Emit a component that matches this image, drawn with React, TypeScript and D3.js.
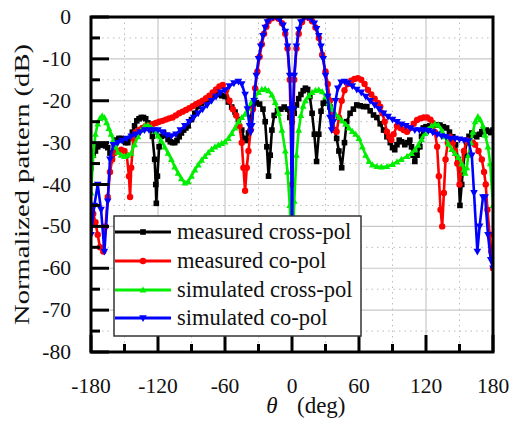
import React from 'react';
import * as d3 from 'd3';

const xTickValues = [-180, -120, -60, 0, 60, 120, 180];
const xMinorValues = [-150, -90, -30, 30, 90, 150];
const yTickValues = [0, -10, -20, -30, -40, -50, -60, -70, -80];
const yMinorValues = [-5, -15, -25, -35, -45, -55, -65, -75];

const seriesNames = ['measured cross-pol', 'measured co-pol', 'simulated cross-pol', 'simulated co-pol'];

const measuredCross: [number, number][] = [
  [-180, -36], [-178, -33], [-176, -32], [-174, -31], [-172, -30.6], [-169, -30.5], [-167, -30.8], [-165, -31.2],
  [-163, -32.5], [-161, -33], [-159, -30.5], [-157, -29.4], [-155, -29], [-153, -29], [-151, -29.5], [-149, -30],
  [-147, -30], [-145, -29], [-143, -27.5], [-141, -26], [-139, -24.8], [-137, -24.3], [-135, -24], [-133, -24],
  [-131, -24.3], [-129, -25.3], [-127, -26.5], [-125, -28.5], [-123, -34], [-122, -40], [-121.5, -44.5], [-120.5, -38],
  [-119, -31], [-117, -28.5], [-115, -27.7], [-113, -28.3], [-111, -29.2], [-109, -29.8], [-107, -30], [-105, -30],
  [-103, -29.5], [-101, -28.6], [-99, -27.7], [-97, -27], [-95, -26.5], [-93, -26], [-90, -24.5], [-87, -23],
  [-84, -21.4], [-81, -20.6], [-78, -20.2], [-75, -19.8], [-72, -19], [-69, -18.2], [-66, -18.5], [-63, -18.8],
  [-60, -19], [-57, -20.3], [-54, -21.5], [-51, -22.7], [-48, -24.5], [-45, -27], [-43, -29], [-41, -29.5],
  [-39, -27.7], [-37, -24], [-35, -21.5], [-32, -20.5], [-29, -20.8], [-26, -22], [-24, -25], [-22.5, -31],
  [-21, -38], [-19.5, -33], [-18, -27], [-16, -23.5], [-13, -22.4], [-10, -22], [-7, -21.5], [-4, -22],
  [-2, -24], [0, -25], [2, -23], [4, -21], [6, -19.5], [8, -18.5], [10, -17.6], [12, -17],
  [14, -17.3], [16, -19], [18, -23], [20, -28], [22, -34.5], [24, -28], [26, -22.5], [28, -20.6],
  [30, -20.3], [32, -20.6], [34, -21.5], [36, -24], [38, -27], [40, -29], [42, -32], [44.5, -36],
  [47, -30], [49, -25], [52, -23], [55, -22], [58, -21], [61, -21.2], [64, -21.4], [67, -21.4],
  [70, -22.4], [73, -23.4], [76, -24], [79, -25.5], [82, -27], [85, -28.6], [88, -30], [90, -31.2],
  [92, -31.7], [94, -30.5], [96, -29.4], [98, -29.8], [101, -30.5], [103, -30], [105.5, -29.4], [107, -31],
  [108.5, -33], [110, -34.5], [112, -33], [114.5, -31], [116, -28.5], [117.5, -26.5], [120, -26.2], [123.5, -26],
  [127, -25.8], [130, -25.8], [132.5, -25.8], [135.5, -26.2], [138.5, -26.5], [141, -27.5], [144, -28.6], [146.5, -30.5],
  [148.7, -34], [150.4, -45], [152, -40], [153, -36.5], [154.5, -33], [156.4, -30], [158.5, -28.5], [161, -27.7],
  [163, -28.2], [165.4, -28.6], [168, -28], [170, -27.4], [172, -27.2], [174, -27], [176, -27.3], [178, -27.6], [180, -27],
];

const measuredCo: [number, number][] = [
  [-180, -45], [-178, -47], [-176, -49], [-174, -52], [-172, -55], [-169, -56], [-167, -50], [-165, -43],
  [-163, -37], [-161, -34], [-159, -32.5], [-156, -32], [-153, -31.7], [-150, -32], [-148, -33], [-146, -38],
  [-145, -43], [-144, -36], [-142, -29], [-140, -27.5], [-137, -27], [-134, -26.5], [-131, -26], [-128, -26],
  [-125, -25.6], [-122, -25.3], [-119, -25], [-116, -24.8], [-113, -24.5], [-110, -24.2], [-107, -24], [-104, -23.5],
  [-101, -23], [-98, -22.6], [-95, -22.2], [-92, -21.8], [-89, -21.3], [-86, -20.8], [-83, -20.4], [-80, -20],
  [-77, -19.4], [-74, -18.8], [-71, -18], [-68, -17.3], [-65, -16.6], [-62, -16.2], [-59, -17.5], [-56, -20],
  [-53, -22], [-50, -23.5], [-47, -26], [-45, -30], [-43.5, -36], [-42, -41.5], [-40.5, -36], [-39, -32],
  [-37, -27], [-35, -22], [-33, -17], [-31, -13], [-29, -9.5], [-27, -6.5], [-25, -4], [-23, -2.3],
  [-21, -1], [-18, -0.3], [-15, 0], [-12, -0.4], [-9, -1.5], [-6, -4], [-4, -7.5], [-2, -15],
  [0, -40], [2, -15], [4, -7.5], [6, -4], [9, -1.2], [12, 0], [15, -0.2], [18, -1],
  [21, -2.5], [24, -5], [27, -9], [30, -13], [32, -16], [34, -20], [36, -24], [38, -27],
  [40, -27.4], [42, -24], [44.5, -20], [47, -17.5], [50, -16], [53, -15.2], [56, -14.8], [59, -14.6],
  [62, -15], [65, -16], [68, -17.4], [71, -18.5], [74, -19.5], [77, -20.5], [79, -21.4], [81, -23],
  [83, -25], [85, -27.4], [87, -28.6], [89, -29.4], [91, -28], [94, -26], [97, -26.5], [100, -27],
  [103, -27.4], [106, -26.5], [109, -25.5], [112, -24.6], [115, -24.2], [118, -24], [121, -24], [124, -24.5],
  [126, -25.3], [128, -27.5], [130, -31], [131.5, -38], [133, -46], [134.5, -50], [136, -42], [137.5, -34],
  [139.5, -30], [141.5, -28.6], [144, -30], [146, -32], [148, -35], [150, -40], [152, -36], [154, -32],
  [156.5, -29.4], [159, -29.6], [162, -30], [164, -30.5], [167, -32], [170, -34], [172, -37], [173.5, -40],
  [175, -46], [177, -52], [178.5, -56], [180, -60],
];

const simulatedCross: [number, number][] = [
  [-180, -42], [-178, -33], [-176, -28], [-174, -25.5], [-172, -24.2], [-170, -23.6], [-168, -24], [-166, -25.2],
  [-164, -26.6], [-162, -28], [-160, -29.4], [-158, -31], [-156, -32.3], [-153, -33], [-150, -33.3], [-147, -33],
  [-144, -32.5], [-141, -30.5], [-138, -28.6], [-135, -27], [-132, -26], [-129, -25.8], [-126, -26.4], [-123, -27.3],
  [-120, -28.4], [-117, -29.6], [-114, -31], [-111, -32.5], [-108, -34], [-105, -35.8], [-102, -37.3], [-99, -38.6],
  [-96, -39.6], [-93, -39.3], [-90, -38], [-87, -36.5], [-84, -35.3], [-81, -34.2], [-78, -33.3], [-75, -32.4],
  [-72, -31.6], [-69, -31], [-66, -30.6], [-63, -30.2], [-60, -29.8], [-57, -29], [-54, -27.8], [-51, -26.5],
  [-48, -25], [-45, -24], [-42, -23.2], [-39, -21.8], [-36, -20.2], [-33, -19], [-30, -18], [-27, -17.3],
  [-24, -17.2], [-21, -17.6], [-18, -18.6], [-15, -20.4], [-12, -23], [-9, -27], [-6, -32], [-4, -37],
  [-2, -45], [0, -60], [2, -44], [4, -33], [6, -27], [8, -23.5], [10, -21.3], [12, -20],
  [15, -18.8], [18, -18], [21, -17.5], [24, -17.4], [27, -17.8], [30, -19], [33, -20.5], [36, -22],
  [39, -23.2], [42, -24], [45, -24.8], [48, -25.6], [51, -26.5], [54, -27.3], [57, -28], [60, -29],
  [63, -31], [66, -33], [69, -34.5], [72, -35.3], [76, -35.7], [80, -35.8], [85, -35.7], [90, -35.2],
  [94, -34.6], [98, -34], [103, -33.3], [107, -32.6], [110, -31.7], [113, -30.6], [116, -29.2], [119, -27.8],
  [122, -26.8], [125, -26], [128, -25.6], [131, -25.8], [134, -27], [137, -28.6], [140, -30.3], [143, -31.6],
  [146, -32.6], [149, -33.5], [152, -35], [154, -36.5], [155, -37.3], [156.5, -36], [158, -33], [160, -30],
  [162, -27.5], [164, -25], [166.5, -23.8], [168.5, -24.5], [171, -26], [173, -28.2], [175.5, -31], [177.5, -35],
  [180, -45],
];

const simulatedCo: [number, number][] = [
  [-180, -52], [-177, -45], [-174, -40], [-171, -46], [-168, -56], [-165, -44], [-163, -34], [-160, -30.5],
  [-156, -30], [-152, -29.5], [-148, -29], [-144, -28.5], [-140, -28], [-136, -27.5], [-132, -27], [-128, -27],
  [-124, -27], [-120, -27], [-116, -27.5], [-112, -28.2], [-108, -28.4], [-104, -28], [-100, -27], [-96, -26],
  [-92, -25], [-88, -24], [-84, -23], [-80, -22], [-76, -21], [-72, -20], [-68, -19], [-64, -18],
  [-60, -17.5], [-56, -16.5], [-52, -15.8], [-48, -15.4], [-45, -16], [-42, -18.5], [-40, -22], [-38, -26],
  [-37, -27.5], [-36, -26], [-34, -20], [-32, -14], [-30, -10], [-28, -7], [-26, -4.5], [-24, -2.5],
  [-22, -1.2], [-20, -0.4], [-17, 0], [-14, 0], [-11, -0.6], [-8, -2], [-6, -3.5], [-4, -7],
  [-2, -14], [-1, -22], [0, -55], [1, -22], [2, -14], [4, -7], [6, -3], [8, -1.2],
  [11, 0], [14, 0], [17, -0.5], [20, -1.5], [22, -2.8], [24, -4.5], [26, -7], [28, -10],
  [30, -14], [32, -19], [34, -24], [35.5, -27], [37, -25], [39, -20], [41, -17], [44, -15.6],
  [47, -15.4], [50, -15.8], [54, -16.5], [58, -17.3], [62, -18], [66, -19], [70, -20], [74, -21],
  [78, -22], [82, -23], [86, -23.8], [90, -24.5], [94, -25], [98, -25.6], [102, -26], [106, -26.5],
  [110, -27], [114, -27], [118, -27], [122, -27.2], [126, -27.5], [130, -28], [134, -28.4], [138, -28.6],
  [142, -29], [146, -29], [150, -29.2], [154, -29.4], [158, -29.6], [161, -33], [163, -42], [166, -56],
  [168, -50], [171, -43], [173, -43], [175.5, -52], [178, -58], [180, -60],
];

const allSeries = [measuredCross, measuredCo, simulatedCross, simulatedCo];
const colors = ['#000000', '#ff0000', '#00ee00', '#0000ff'];
const markerKinds = ['square', 'circle', 'up', 'down'];

const W = 509;
const H = 423;
const left = 91;
const right = 493;
const top = 17;
const bottom = 352;
const FONT = "'Liberation Serif', 'Times New Roman', Times, serif";

function Marker({ kind, x, y, color }: { kind: string; x: number; y: number; color: string }) {
  if (kind === 'square') return <rect x={x - 2.8} y={y - 2.8} width={5.6} height={5.6} fill={color} />;
  if (kind === 'circle') return <circle cx={x} cy={y} r={3.2} fill={color} />;
  if (kind === 'up') return <path d={`M${x},${y - 3.6}L${x + 3.4},${y + 2.6}L${x - 3.4},${y + 2.6}Z`} fill={color} />;
  return <path d={`M${x},${y + 4}L${x + 3.8},${y - 2.8}L${x - 3.8},${y - 2.8}Z`} fill={color} />;
}

export default function App() {
  const x = d3.scaleLinear().domain([-180, 180]).range([left, right]);
  const y = d3.scaleLinear().domain([-80, 0]).range([bottom, top]);
  const line = d3.line<[number, number]>().x((d) => x(d[0])).y((d) => y(d[1]));

  const legendX = 114;
  const legendY = 216;
  const legendRows = [232, 261, 290, 318];

  return (
    <svg width={W} height={H} style={{ position: 'absolute', left: 0, top: 0, background: '#fff' }} fontFamily={FONT}>
      <defs>
        <clipPath id="plotClip">
          <rect x={left} y={top} width={right - left} height={bottom - top} />
        </clipPath>
      </defs>
      <rect x={0} y={0} width={W} height={H} fill="#fff" />
      {xMinorValues.map((v) => (
        <line key={'xm' + v} x1={x(v)} x2={x(v)} y1={top} y2={bottom} stroke="#bbbbbb" strokeWidth={1} strokeDasharray="1.5,4" />
      ))}
      {yMinorValues.map((v) => (
        <line key={'ym' + v} x1={left} x2={right} y1={y(v)} y2={y(v)} stroke="#bbbbbb" strokeWidth={1} strokeDasharray="1.5,4" />
      ))}
      {xTickValues.slice(1, -1).map((v) => (
        <line key={'xg' + v} x1={x(v)} x2={x(v)} y1={top} y2={bottom} stroke="#c8c8c8" strokeWidth={1.2} />
      ))}
      {yTickValues.slice(1, -1).map((v) => (
        <line key={'yg' + v} x1={left} x2={right} y1={y(v)} y2={y(v)} stroke="#c8c8c8" strokeWidth={1.2} />
      ))}
      <g clipPath="url(#plotClip)">
        {allSeries.map((s, i) => (
          <g key={'s' + i}>
            <path d={line(s) || ''} fill="none" stroke={colors[i]} strokeWidth={2.6} strokeLinejoin="round" />
            {s.map((d, j) => (
              <Marker key={j} kind={markerKinds[i]} x={x(d[0])} y={y(d[1])} color={colors[i]} />
            ))}
          </g>
        ))}
      </g>
      {xTickValues.map((v) => (
        <line key={'xt' + v} x1={x(v)} x2={x(v)} y1={bottom} y2={bottom - 17} stroke="#000" strokeWidth={3} />
      ))}
      {xMinorValues.map((v) => (
        <line key={'xtm' + v} x1={x(v)} x2={x(v)} y1={bottom} y2={bottom - 8} stroke="#000" strokeWidth={3} />
      ))}
      {yTickValues.map((v) => (
        <line key={'yt' + v} x1={left} x2={left + 18} y1={y(v)} y2={y(v)} stroke="#000" strokeWidth={3} />
      ))}
      {yMinorValues.map((v) => (
        <line key={'ytm' + v} x1={left} x2={left + 9} y1={y(v)} y2={y(v)} stroke="#000" strokeWidth={3} />
      ))}
      <rect x={legendX} y={legendY} width={247} height={120} fill="#fff" stroke="#333" strokeWidth={1.5} />
      {seriesNames.map((n, i) => (
        <g key={'lg' + i}>
          <line x1={legendX + 1} x2={171} y1={legendRows[i]} y2={legendRows[i]} stroke={colors[i]} strokeWidth={3} />
          <Marker kind={markerKinds[i]} x={143} y={legendRows[i]} color={colors[i]} />
          <text x={177} y={legendRows[i] + 7} fontSize={22.5} fill="#111">{n}</text>
        </g>
      ))}
      <rect x={left} y={top} width={right - left} height={bottom - top} fill="none" stroke="#000" strokeWidth={3} />
      {yTickValues.map((v) => (
        <text key={'yl' + v} x={71} y={y(v) + 7} fontSize={21.5} textAnchor="end" fill="#111">{v}</text>
      ))}
      {xTickValues.map((v) => (
        <text key={'xl' + v} x={x(v)} y={393} fontSize={21.5} textAnchor="middle" fill="#111">{v}</text>
      ))}
      <text x={272} y={413} fontSize={23} fontStyle="italic" textAnchor="middle" fill="#111">θ</text>
      <text x={297} y={413} fontSize={23} fill="#111">(deg)</text>
      <text transform={`translate(29,${(top + bottom) / 2}) rotate(-90) scale(1.3,1)`} fontSize={22} textAnchor="middle" fill="#111">
        Normalized pattern (dB)
      </text>
    </svg>
  );
}
